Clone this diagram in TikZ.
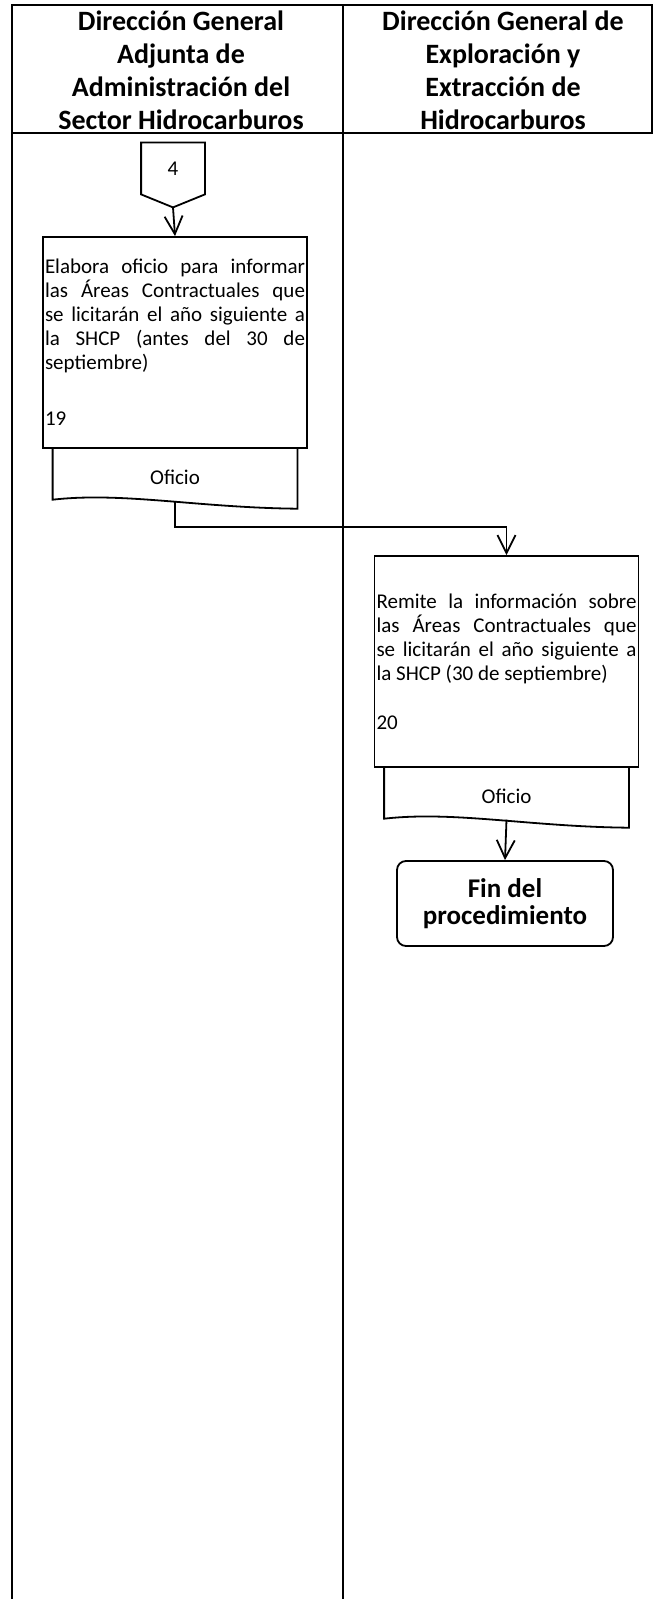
\documentclass[tikz,border=0pt]{standalone}
\usepackage{fontspec}
\setmainfont{Carlito}
\usetikzlibrary{positioning,calc,arrows.meta}

\begin{document}
\begin{tikzpicture}[x=0.5pt,y=-0.5pt,
  lane/.style={line width=1.1pt},
  head/.style={align=center, font=\fontsize{14}{16.5}\selectfont\bfseries},
  activity/.style={draw, line width=0.9pt, text width=130pt, minimum width=132pt, minimum height=105.5pt,
    inner xsep=1pt, inner ysep=2pt, align=justify, font=\fontsize{10.5}{12}\selectfont},
  docbox/.style={minimum width=122pt, minimum height=28pt, inner sep=0pt, font=\fontsize{10.5}{12}\selectfont},
  endbox/.style={draw, line width=0.9pt, rounded corners=4.5pt, minimum width=108pt, minimum height=42.5pt,
    align=center, font=\fontsize{13.5}{13.5}\selectfont\bfseries},
  flow/.style={line width=0.9pt, -{Straight Barb[length=9pt,width=9pt,line width=0.9pt]}}
]
\useasboundingbox (0,0) rectangle (660,1599);

% Lanes
\draw[lane] (12,5) rectangle (652,133);
\draw[lane] (12,5) -- (12,1599);
\draw[lane] (343,5) -- (343,1599);
\node[head] (laneA) at (181,70) {Dirección General\\Adjunta de\\Administración del\\Sector Hidrocarburos};
\node[head] (laneB) at (503,70) {Dirección General de\\Exploración y\\Extracción de\\Hidrocarburos};

% Off-page connector
\node[minimum width=31.5pt, minimum height=25.5pt, inner sep=0pt, font=\fontsize{10.5}{12}\selectfont] (conn4) at (173,168.5) {4};
\draw[line width=0.9pt] (conn4.north west) -- (conn4.north east) -- (conn4.south east)
  -- ($(conn4.south)+(0,-6.5pt)$) coordinate (conn4tip) -- (conn4.south west) -- cycle;

% Activities
\node[activity] (act19) at (175,342.5) {Elabora oficio para informar\linebreak las Áreas Contractuales que\linebreak se licitarán el año siguiente a\linebreak la SHCP (antes del 30 de\linebreak septiembre)\\[16pt]19};
\node[docbox, below=0pt of act19] (doc19) {Oficio};
\draw[line width=0.9pt] (doc19.north west) -- ($(doc19.south west)+(0,3pt)$)
  .. controls ($(doc19.south west)+(35pt,7pt)$) and ($(doc19.south east)+(-50pt,-1pt)$) .. ($(doc19.south east)+(0,-1.5pt)$)
  -- (doc19.north east);

\node[activity] (act20) at (506.5,661.5) {Remite la información sobre\linebreak las Áreas Contractuales que\linebreak se licitarán el año siguiente a\linebreak la SHCP (30 de septiembre)\\[12.5pt]20};
\node[docbox, below=0pt of act20] (doc20) {Oficio};
\draw[line width=0.9pt] (doc20.north west) -- ($(doc20.south west)+(0,3pt)$)
  .. controls ($(doc20.south west)+(35pt,7pt)$) and ($(doc20.south east)+(-50pt,-1pt)$) .. ($(doc20.south east)+(0,-1.5pt)$)
  -- (doc20.north east);

\node[endbox] (fin) at (505,903.5) {Fin del\\procedimiento};

% Connectors
\draw[flow] (conn4tip) -- (act19.north);
\draw[flow] ($(doc19.south)+(0,2.5pt)$) -- ++(0,-13pt) -| (act20.north);
\draw[flow] ($(doc20.south)+(0,2.5pt)$) -- (fin.north);
\end{tikzpicture}
\end{document}
